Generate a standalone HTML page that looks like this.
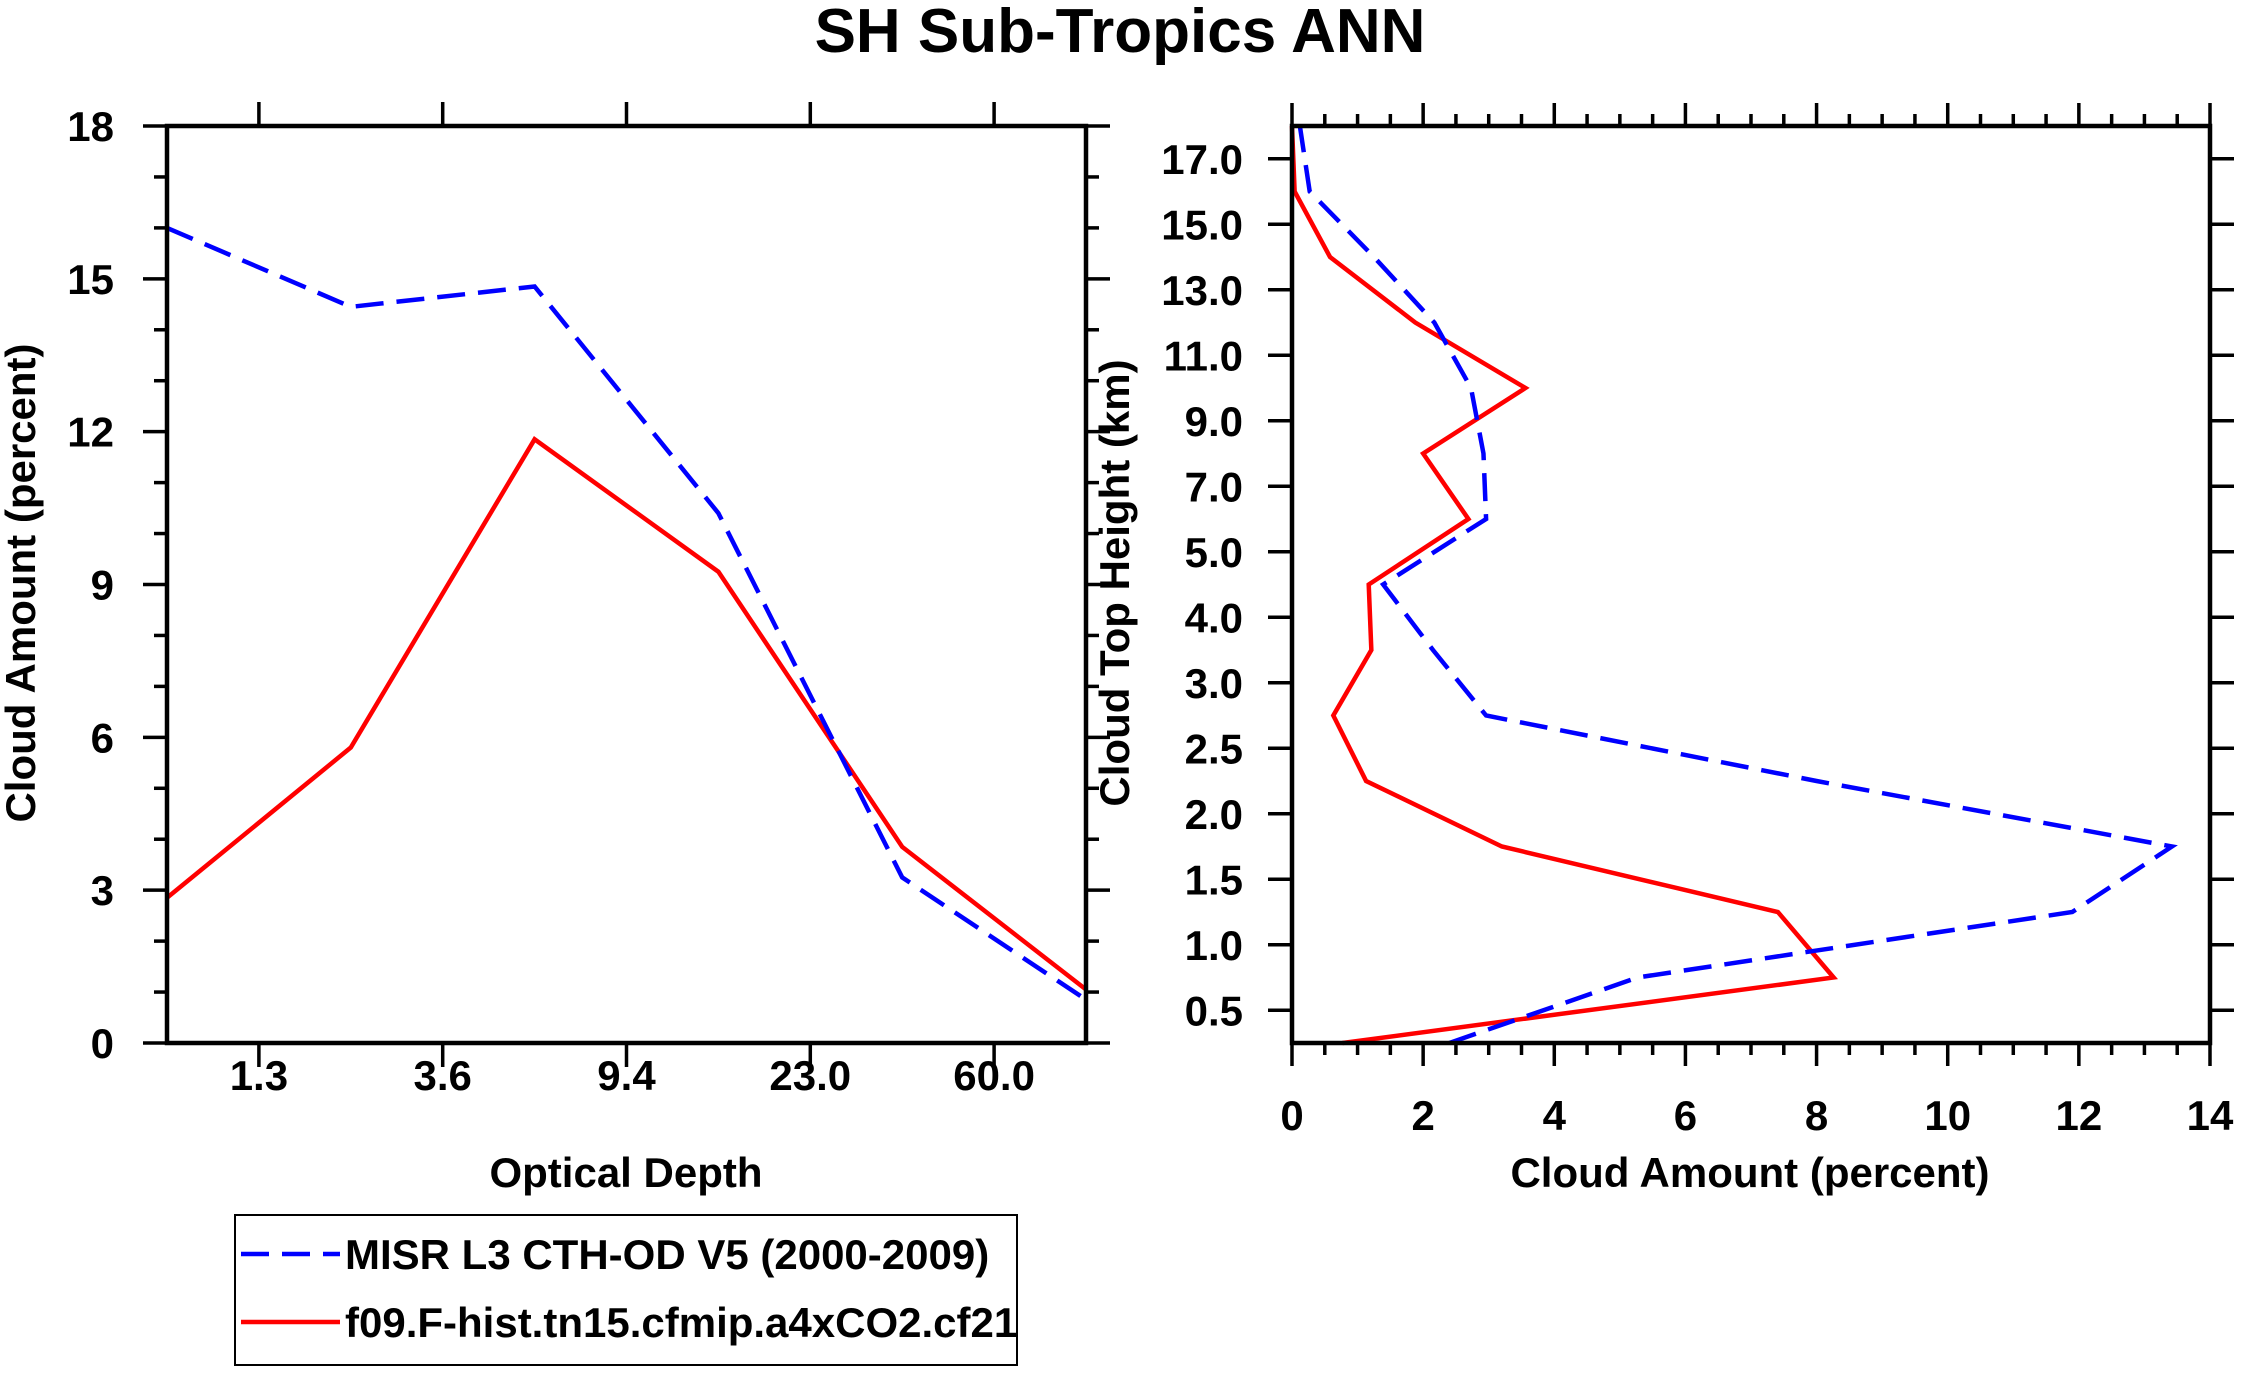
<!DOCTYPE html>
<html><head><meta charset="utf-8"><style>
html,body{margin:0;padding:0;background:#fff;}
svg{display:block;font-family:"Liberation Sans",Arial,sans-serif;font-weight:bold;}
</style></head><body>
<svg id="fig" width="2241" height="1373" viewBox="0 0 2241 1373" xmlns="http://www.w3.org/2000/svg">
<text x="1120" y="52" font-size="62" text-anchor="middle">SH Sub-Tropics ANN</text>
<g id="left"></g>
<g id="right"></g>
<text x="626" y="1187" font-size="42" text-anchor="middle">Optical Depth</text>
<text transform="translate(35,583) rotate(-90)" font-size="42" text-anchor="middle">Cloud Amount (percent)</text>
<text x="1750" y="1187" font-size="42" text-anchor="middle">Cloud Amount (percent)</text>
<text transform="translate(1129,583) rotate(-90)" font-size="42" text-anchor="middle">Cloud Top Height (km)</text>
<g>
<rect x="235" y="1215" width="782" height="150" fill="#fff" stroke="#000" stroke-width="2"/>
<line x1="241" y1="1254" x2="340" y2="1254" stroke="#0000ff" stroke-width="4.5" stroke-dasharray="28,13"/>
<text x="345" y="1269" font-size="42">MISR L3 CTH-OD V5 (2000-2009)</text>
<line x1="241" y1="1322" x2="340" y2="1322" stroke="#ff0000" stroke-width="4.5"/>
<text x="345" y="1337" font-size="42">f09.F-hist.tn15.cfmip.a4xCO2.cf21</text>
</g>
</svg>
<script>
// Left panel data
const odLabels = ["1.3","3.6","9.4","23.0","60.0"];
const odMisr = [16.0, 14.45, 14.85, 10.4, 3.25, 0.85];
const odModel = [2.85, 5.8, 11.85, 9.25, 3.85, 1.05];
const leftYTicks = [0,3,6,9,12,15,18];
// Right panel data (bottom to top boundaries)
const cthLabels = ["0.5","1.0","1.5","2.0","2.5","3.0","4.0","5.0","7.0","9.0","11.0","13.0","15.0","17.0"];
const cthMisr = [2.4, 5.27, 11.9, 13.42, 8.0, 2.96, 2.15, 1.39, 2.96, 2.92, 2.73, 2.17, 1.25, 0.27, 0.12];
const cthModel = [0.77, 8.26, 7.41, 3.2, 1.13, 0.63, 1.21, 1.17, 2.69, 2.0, 3.56, 1.88, 0.58, 0.04, 0.0];
const rightXTicks = [0,2,4,6,8,10,12,14];

const NS="http://www.w3.org/2000/svg";
function mk(parent, tag, attrs){const e=document.createElementNS(NS,tag);for(const k in attrs)e.setAttribute(k,attrs[k]);parent.appendChild(e);return e;}

// Left panel
const L={x0:167,x1:1086,y0:126,y1:1043};
const lx=i=>L.x0+(L.x1-L.x0)*i/5;
const ly=v=>L.y1-(L.y1-L.y0)*v/18;
const lg=document.getElementById('left');
for(let v=0;v<=18;v++){
  const maj=v%3===0, len=maj?24:13;
  let t=mk(lg,'line',{x1:L.x0-len,x2:L.x0,y1:ly(v),y2:ly(v),stroke:'#000','stroke-width':3.5});
  
  
  t=mk(lg,'line',{x1:L.x1,x2:L.x1+len,y1:ly(v),y2:ly(v),stroke:'#000','stroke-width':3.5});
  
  
}
leftYTicks.forEach(v=>{
  const t=mk(lg,'text',{x:114,y:ly(v)+15,'font-size':42,'text-anchor':'end'});t.textContent=v;
  
  
});
odLabels.forEach((s,i)=>{
  const x=lx(i+0.5);
  let t=mk(lg,'line',{x1:x,x2:x,y1:L.y1,y2:L.y1+24,stroke:'#000','stroke-width':3.5});
  
  
  t=mk(lg,'line',{x1:x,x2:x,y1:L.y0-24,y2:L.y0,stroke:'#000','stroke-width':3.5});
  
  
  t=mk(lg,'text',{x:x,y:1090,'font-size':42,'text-anchor':'middle'});t.textContent=s;
  
  
});
let p=mk(lg,'polyline',{points:odModel.map((v,i)=>lx(i)+','+ly(v)).join(' '),fill:'none',stroke:'#ff0000','stroke-width':4.5});


p=mk(lg,'polyline',{points:odMisr.map((v,i)=>lx(i)+','+ly(v)).join(' '),fill:'none',stroke:'#0000ff','stroke-width':4.5,'stroke-dasharray':'28,13'});


let fr=mk(lg,'rect',{x:L.x0,y:L.y0,width:L.x1-L.x0,height:L.y1-L.y0,fill:'none',stroke:'#000','stroke-width':4.5});



// Right panel
const R={x0:1292,x1:2210,y0:126,y1:1043};
const rx=v=>R.x0+(R.x1-R.x0)*v/14;
const ry=i=>R.y1-(R.y1-R.y0)*i/14;
const rg=document.getElementById('right');
for(let k=0;k<=28;k++){
  const v=k*0.5, maj=k%4===0, len=maj?23:12;
  let t=mk(rg,'line',{x1:rx(v),x2:rx(v),y1:R.y1,y2:R.y1+len,stroke:'#000','stroke-width':3.5});
  
  
  t=mk(rg,'line',{x1:rx(v),x2:rx(v),y1:R.y0-len,y2:R.y0,stroke:'#000','stroke-width':3.5});
  
  
}
rightXTicks.forEach(v=>{
  const t=mk(rg,'text',{x:rx(v),y:1130,'font-size':42,'text-anchor':'middle'});t.textContent=v;
  
  
});
cthLabels.forEach((s,i)=>{
  const y=ry(i+0.5);
  let t=mk(rg,'line',{x1:R.x0-24,x2:R.x0,y1:y,y2:y,stroke:'#000','stroke-width':3.5});
  
  
  t=mk(rg,'line',{x1:R.x1,x2:R.x1+24,y1:y,y2:y,stroke:'#000','stroke-width':3.5});
  
  
  t=mk(rg,'text',{x:1243,y:y+15,'font-size':42,'text-anchor':'end'});t.textContent=s;
  
  
});
p=mk(rg,'polyline',{points:cthModel.map((v,i)=>rx(v)+','+ry(i)).join(' '),fill:'none',stroke:'#ff0000','stroke-width':4.5});


p=mk(rg,'polyline',{points:cthMisr.map((v,i)=>rx(v)+','+ry(i)).join(' '),fill:'none',stroke:'#0000ff','stroke-width':4.5,'stroke-dasharray':'28,13'});


fr=mk(rg,'rect',{x:R.x0,y:R.y0,width:R.x1-R.x0,height:R.y1-R.y0,fill:'none',stroke:'#000','stroke-width':4.5});


</script>
</body></html>
